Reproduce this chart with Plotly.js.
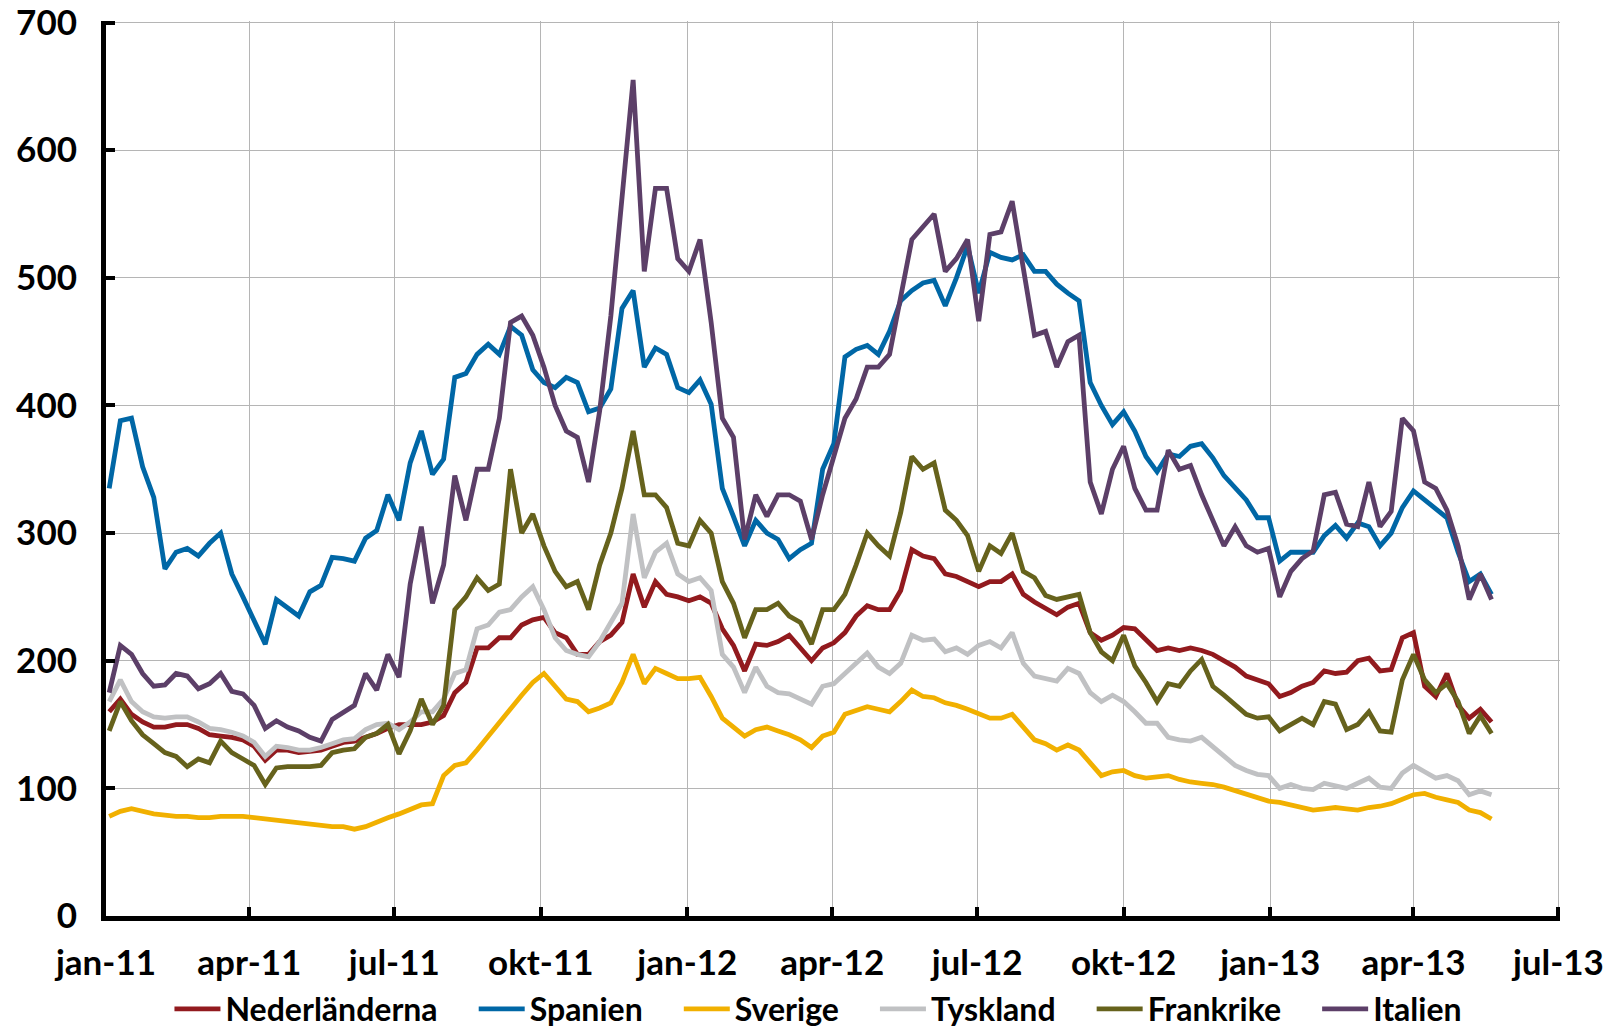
<!DOCTYPE html>
<html>
<head>
<meta charset="utf-8">
<script src="https://cdn.plot.ly/plotly-3.0.1.min.js"></script>
<style>
html,body{margin:0;padding:0;background:#ffffff;}
#chart{width:1620px;height:1035px;}
</style>
</head>
<body>
<div id="chart"></div>
<script>
// Weekly observations, first week starting 2011-01-03
const firstWeek = '2011-01-03';
const weekStepDays = 7;

const tickDates = ['2011-01-01','2011-04-01','2011-07-01','2011-10-01','2012-01-01','2012-04-01',
                   '2012-07-01','2012-10-01','2013-01-01','2013-04-01','2013-07-01'];
const tickLabels = ['jan-11','apr-11','jul-11','okt-11','jan-12','apr-12','jul-12','okt-12','jan-13','apr-13','jul-13'];
const yTickVals = [0,100,200,300,400,500,600,700];

const seriesNames = ['Nederländerna','Spanien','Sverige','Tyskland','Frankrike','Italien'];

const nederlanderna = [
  160,170,158,152,148,148,150,150,147,142,141,140,138,133,122,130,130,128,129,130,133,136,
  137,140,143,147,150,150,150,152,157,175,183,210,210,218,218,228,232,234,222,218,205,205,
  215,220,230,268,242,262,252,250,247,250,245,225,212,192,213,212,215,220,210,200,210,
  214,222,235,243,240,240,255,287,282,280,268,266,262,258,262,262,268,252,246,241,236,242,
  245,222,216,220,226,225,216,208,210,208,210,208,205,200,195,188,185,182,172,175,180,
  183,192,190,191,200,202,192,193,218,222,180,172,190,165,155,162,152
];
const spanien = [
  335,388,390,352,328,272,285,288,282,292,300,268,250,232,213,248,242,235,254,259,281,280,
  278,296,302,330,310,355,380,346,358,422,425,440,448,440,462,455,428,418,414,422,418,395,
  398,413,476,490,430,445,440,414,410,420,401,335,313,290,310,300,295,280,287,292,350,
  370,438,444,447,440,458,482,490,496,498,478,500,525,488,520,516,514,518,505,505,495,488,
  482,418,400,385,395,380,360,348,362,360,368,370,359,345,335,326,312,312,278,285,285,
  285,298,306,296,308,305,290,300,320,333,326,320,312,285,262,268,252
];
const sverige = [
  78,82,84,82,80,79,78,78,77,77,78,78,78,77,76,75,74,73,72,71,70,70,
  68,70,74,77,80,84,87,88,110,118,120,130,141,152,163,173,183,190,180,170,168,160,
  163,167,183,205,182,194,190,186,186,187,172,155,148,141,146,148,145,142,138,132,141,
  144,158,161,164,162,160,168,177,172,171,167,165,162,158,155,155,158,148,138,135,130,134,
  130,120,110,113,114,110,108,109,110,107,105,104,103,101,98,95,92,90,89,87,85,
  83,84,85,84,83,85,86,88,92,95,96,93,91,89,83,81,76
];
const tyskland = [
  168,185,168,160,156,155,156,156,152,147,146,144,141,136,125,133,132,130,130,132,135,138,
  139,146,150,151,146,152,160,160,170,190,193,225,228,238,240,250,258,240,218,208,205,203,
  215,230,245,315,265,285,292,268,262,265,255,205,195,175,195,180,175,174,170,166,180,
  182,190,198,206,195,190,198,220,216,217,207,210,205,212,215,210,222,198,188,186,184,194,
  190,175,168,173,168,160,151,151,140,138,137,140,133,125,118,114,111,110,100,103,100,
  99,104,102,100,104,108,101,100,112,118,113,108,110,106,95,98,95
];
const frankrike = [
  145,168,153,142,135,128,125,117,123,120,137,128,123,118,103,116,117,117,117,118,128,130,
  131,140,143,150,127,145,170,150,165,240,250,265,255,260,350,300,315,290,270,258,262,240,
  275,300,335,380,330,330,320,292,290,310,300,262,245,218,240,240,245,235,230,213,240,
  240,252,275,300,290,282,316,360,350,355,318,310,298,270,290,284,300,270,265,251,248,250,
  252,222,207,200,220,196,183,168,182,180,192,201,180,173,165,158,155,156,145,150,155,
  150,168,166,146,150,160,145,144,185,205,185,175,182,168,143,157,143
];
const italien = [
  175,212,205,190,180,181,190,188,178,182,190,176,174,165,147,153,148,145,140,137,154,160,
  165,190,177,205,187,260,305,245,275,345,310,350,350,390,465,470,455,430,400,380,375,340,
  396,470,560,655,505,570,570,515,505,530,465,390,375,295,330,313,330,330,325,295,330,
  360,390,405,430,430,440,485,530,540,550,505,515,530,466,534,536,560,510,455,458,430,450,
  455,340,315,350,368,335,318,318,365,350,353,330,310,290,305,290,285,288,250,270,280,
  286,330,332,307,305,340,305,317,390,380,340,335,318,290,248,268,248
];

const seriesColors = ['#921A1E','#0067A6','#F1B000','#C0C1C3','#66621C','#5C3F68'];
const seriesValues = [nederlanderna, spanien, sverige, tyskland, frankrike, italien];

function weekDates(n){
  const out = [];
  const base = new Date(firstWeek + 'T00:00:00Z');
  for (let k = 0; k < n; k++){
    const d = new Date(base.getTime() + k*weekStepDays*86400000);
    out.push(d.toISOString().slice(0,10));
  }
  return out;
}
const dates = weekDates(nederlanderna.length);

const FONT = 'Lato, "Open Sans", "DejaVu Sans", sans-serif';
// spacing after each legend label (non-breaking spaces)
const legendPad = '\u00A0\u00A0\u00A0\u00A0';

const traces = seriesNames.map((name, i) => ({
  type: 'scatter',
  mode: 'lines',
  name: (i < seriesNames.length - 1) ? name + legendPad : name,
  x: dates,
  y: seriesValues[i],
  line: {color: seriesColors[i], width: 4.8}
}));

const layout = {
  width: 1620,
  height: 1035,
  paper_bgcolor: '#ffffff',
  plot_bgcolor: '#ffffff',
  margin: {l: 106, r: 60, t: 21, b: 119, autoexpand: false},
  showlegend: true,
  font: {family: FONT, color: '#000000'},
  xaxis: {
    type: 'date',
    range: ['2011-01-01', '2013-07-02'],
    tickmode: 'array',
    tickvals: tickDates,
    ticktext: tickLabels,
    showgrid: true,
    gridcolor: '#B5B5B5',
    gridwidth: 1,
    showline: true,
    linecolor: '#000000',
    linewidth: 5,
    ticks: 'inside',
    ticklen: 9,
    tickwidth: 4,
    tickcolor: '#000000',
    zeroline: false,
    ticklabelstandoff: 12,
    ticklabeloverflow: 'allow',
    tickfont: {family: FONT, size: 35, color: '#000000', weight: 700}
  },
  yaxis: {
    range: [0, 701.2],
    tickmode: 'array',
    tickvals: yTickVals,
    ticktext: yTickVals.map(String),
    showgrid: true,
    gridcolor: '#B5B5B5',
    gridwidth: 1,
    showline: true,
    linecolor: '#000000',
    linewidth: 5,
    ticks: 'inside',
    ticklen: 9,
    tickwidth: 4,
    tickcolor: '#000000',
    zeroline: false,
    ticklabelstandoff: 17,
    ticklabeloverflow: 'allow',
    tickfont: {family: FONT, size: 35, color: '#000000', weight: 700}
  },
  legend: {
    orientation: 'h',
    x: 0.49,
    xanchor: 'center',
    y: -0.104,
    yanchor: 'middle',
    font: {family: FONT, size: 32, color: '#000000', weight: 700},
    bgcolor: 'rgba(0,0,0,0)',
    itemwidth: 46,
    tracegroupgap: 0
  }
};

Plotly.newPlot('chart', traces, layout, {displayModeBar: false, staticPlot: true});
</script>
</body>
</html>
